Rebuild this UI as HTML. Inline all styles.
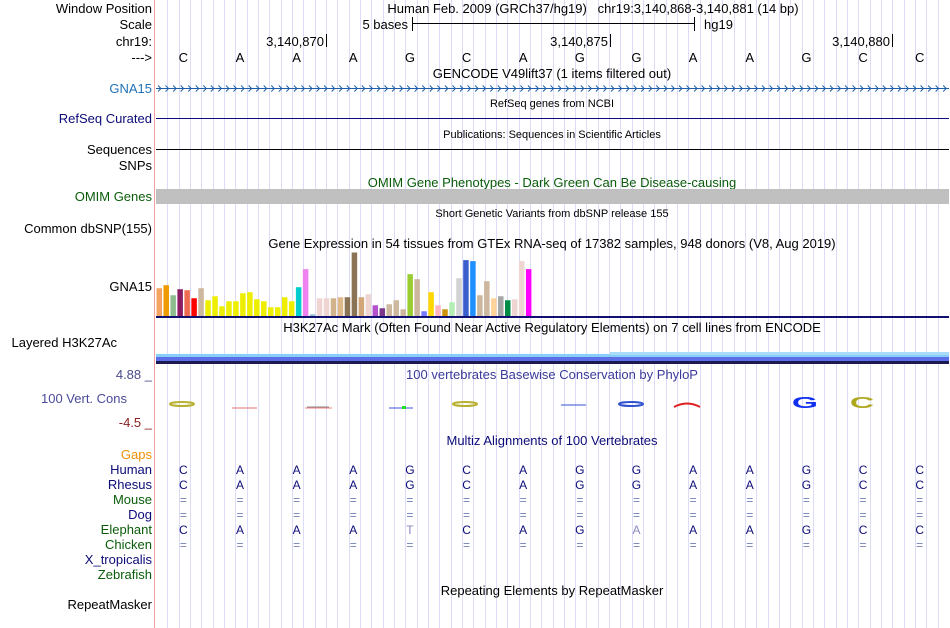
<!DOCTYPE html>
<html><head><meta charset="utf-8"><style>
body{margin:0;background:#fff;width:950px;height:628px;overflow:hidden}
svg{display:block;font-family:"Liberation Sans",sans-serif;font-size:13px}
</style></head><body>
<svg id="c" width="950" height="628">
<g id="grid"></g>
<line x1="154.5" y1="0" x2="154.5" y2="628" stroke="#f4a0a0"/>
<g text-anchor="end">
<text x="152" y="13">Window Position</text>
<text x="152" y="29">Scale</text>
<text x="152" y="46">chr19:</text>
<text x="152" y="62">---&gt;</text>
<text x="152" y="93" fill="#1f72b8">GNA15</text>
<text x="152" y="123" fill="#0c0c78">RefSeq Curated</text>
<text x="152" y="154">Sequences</text>
<text x="152" y="170">SNPs</text>
<text x="152" y="201" fill="#0a5c0a">OMIM Genes</text>
<text x="152" y="233">Common dbSNP(155)</text>
<text x="152" y="291">GNA15</text>
<text x="117" y="347">Layered H3K27Ac</text>
<text x="152" y="379" fill="#4a4a8a">4.88 _</text>
<text x="127" y="403" fill="#4a4a9a">100 Vert. Cons</text>
<text x="152" y="427" fill="#8b2020">-4.5 _</text>
<text x="152" y="459" fill="#f0900a">Gaps</text>
<text x="152" y="474" fill="#0c0c78">Human</text>
<text x="152" y="489" fill="#0c0c78">Rhesus</text>
<text x="152" y="504" fill="#0a5c0a">Mouse</text>
<text x="152" y="519" fill="#0c0c78">Dog</text>
<text x="152" y="534" fill="#0a5c0a">Elephant</text>
<text x="152" y="549" fill="#0a5c0a">Chicken</text>
<text x="152" y="564" fill="#0c0c78">X_tropicalis</text>
<text x="152" y="579" fill="#0a5c0a">Zebrafish</text>
<text x="152" y="609">RepeatMasker</text>
</g>
<g text-anchor="middle">
<text x="593" y="13">Human Feb. 2009 (GRCh37/hg19)&#160;&#160;&#160;chr19:3,140,868-3,140,881 (14 bp)</text>
<text x="552" y="78">GENCODE V49lift37 (1 items filtered out)</text>
<text x="552" y="107" font-size="11">RefSeq genes from NCBI</text>
<text x="552" y="138" font-size="11">Publications: Sequences in Scientific Articles</text>
<text x="552" y="187" fill="#0a5c0a">OMIM Gene Phenotypes - Dark Green Can Be Disease-causing</text>
<text x="552" y="217" font-size="11">Short Genetic Variants from dbSNP release 155</text>
<text x="552" y="248">Gene Expression in 54 tissues from GTEx RNA-seq of 17382 samples, 948 donors (V8, Aug 2019)</text>
<text x="552" y="332">H3K27Ac Mark (Often Found Near Active Regulatory Elements) on 7 cell lines from ENCODE</text>
<text x="552" y="379" fill="#3a3a9a">100 vertebrates Basewise Conservation by PhyloP</text>
<text x="552" y="445" fill="#0c0c78">Multiz Alignments of 100 Vertebrates</text>
<text x="552" y="595">Repeating Elements by RepeatMasker</text>
</g>
<g>
<text x="408" y="29" text-anchor="end">5 bases</text>
<line x1="412" y1="23.5" x2="695" y2="23.5" stroke="#000"/>
<line x1="412.5" y1="17" x2="412.5" y2="31" stroke="#000"/>
<line x1="694.5" y1="17" x2="694.5" y2="31" stroke="#000"/>
<text x="704" y="29">hg19</text>
</g>
<g text-anchor="end">
<text x="324" y="46">3,140,870</text><line x1="326.5" y1="34" x2="326.5" y2="47" stroke="#000"/>
<text x="608" y="46">3,140,875</text><line x1="610.5" y1="34" x2="610.5" y2="47" stroke="#000"/>
<text x="890" y="46">3,140,880</text><line x1="892.5" y1="34" x2="892.5" y2="47" stroke="#000"/>
</g>
<g id="bases" text-anchor="middle"></g>
<g id="gencode"></g>
<line x1="156" y1="118.5" x2="949" y2="118.5" stroke="#0c0c78"/>
<line x1="156" y1="149.5" x2="949" y2="149.5" stroke="#000"/>
<rect x="156" y="189" width="793" height="15" fill="#c0c0c0"/>
<g id="gtex"></g>
<g>
<rect x="156" y="354" width="793" height="3" fill="#87cefa"/>
<rect x="610" y="352" width="339" height="3" fill="#a8dcf8"/>
<rect x="156" y="357" width="793" height="4" fill="#5b6ee8"/>
<rect x="156" y="361" width="793" height="3" fill="#1a1a50"/>
</g>
<g>
<ellipse cx="182" cy="404" rx="12" ry="2" fill="none" stroke="#b8b030" stroke-width="2"/>
<line x1="232" y1="408" x2="257" y2="408" stroke="#e07070"/>
<line x1="307" y1="407" x2="329" y2="407" stroke="#888"/>
<line x1="305" y1="408" x2="332" y2="408" stroke="#f08080"/>
<line x1="389" y1="408" x2="413" y2="408" stroke="#4050e0"/>
<rect x="402" y="406" width="4" height="3" fill="#20e020"/>
<ellipse cx="465" cy="404" rx="12" ry="2" fill="none" stroke="#b8b030" stroke-width="2"/>
<line x1="561" y1="405" x2="586" y2="405" stroke="#3050d0"/>
<ellipse cx="631" cy="404" rx="12" ry="2" fill="none" stroke="#3050d0" stroke-width="2"/>
<path d="M674 407 Q687 400 700 407" fill="none" stroke="#e02020" stroke-width="2"/>
<text x="805" y="408" text-anchor="middle" font-size="24" font-weight="bold" fill="#1030f0" transform="translate(805 408) scale(1.4 0.65) translate(-805 -408)">G</text>
<text x="862" y="408" text-anchor="middle" font-size="24" font-weight="bold" fill="#b0a820" transform="translate(862 408) scale(1.4 0.65) translate(-862 -408)">C</text>
</g>
<g id="multiz" text-anchor="middle" font-size="12"></g>
</svg>
<script>
const NS='http://www.w3.org/2000/svg';
const X0=156,X1=949,NB=14,BW=(X1-X0)/NB;
// GTEx data
const gtexValues=[27.7,30.7,20.7,26.7,25.7,17.7,27.7,15.7,19.7,9.7,14.7,14.7,22.7,23.7,16.7,14.7,8.7,8.7,18.7,14.7,28.7,46.7,1.7,17.7,17.7,17.7,18.7,18.7,63.3,18.7,21.7,10.7,7.7,11.7,15.7,6.7,41.7,36.7,4.7,23.7,10.7,6.7,13.7,37.7,55.7,54.7,20.7,34.7,17.7,19.7,15.7,16.7,54.7,46.7];
const gtexColors=['#f4a460','#ee9a00','#8fbc8f','#8b1c62','#ee6a50','#ff0000','#cdb79e','#eeee00','#eeee00','#eeee00','#eeee00','#eeee00','#eeee00','#eeee00','#eeee00','#eeee00','#eeee00','#eeee00','#eeee00','#eeee00','#00cdcd','#ee82ee','#9ac0cd','#eed5d2','#eed5d2','#d2b48c','#deb887','#8b7355','#8b7355','#d2a679','#eed5d2','#b452cd','#7a378b','#cdb79e','#cdb79e','#cdb79e','#9acd32','#cdb79e','#7777ff','#ffd700','#ffb6c1','#cd950c','#b4eeb4','#d3d3d3','#3a5fcd','#1e90ff','#cdb79e','#cdb79e','#ffd39b','#a6a6a6','#008b45','#eed5d2','#eed5d2','#ff00ff'];
const gtexMax=63.3;
const seq=['C','A','A','A','G','C','A','G','G','A','A','G','C','C'];
const elephant=['C','A','A','A','T','C','A','G','A','A','A','G','C','C'];
function mk(t,a,p){const e=document.createElementNS(NS,t);for(const k in a)e.setAttribute(k,a[k]);p.appendChild(e);return e;}
const bx=i=>X0-1+BW*(i+0.5);
const grid=document.getElementById('grid');
for(let k=1;k<NB*5;k++){const x=Math.round(X0+k*BW/5)+0.5;const l=mk('line',{x1:x,y1:0,x2:x,y2:628,stroke:'#dcdcf8'},grid);

}
const bases=document.getElementById('bases');
seq.forEach((b,i)=>{const t=mk('text',{x:bx(i),y:62},bases);t.textContent=b;

});
const gc=document.getElementById('gencode');
mk('line',{x1:X0,y1:88.5,x2:X1,y2:88.5,stroke:'#1f5fa8'},gc);
for(let x=X0+4;x<X1-3;x+=7.55){mk('path',{d:'M'+(x-2)+' 85.5L'+(x+1)+' 88.5L'+(x-2)+' 91.5',fill:'none',stroke:'#1f5fa8'},gc);}
const G0=156.5,GSTEP=6.97,BASE=316,GH=63.5;
const yG=v=>BASE-v/gtexMax*GH;
const gt=document.getElementById('gtex');
gtexValues.forEach((v,i)=>{const r=mk('rect',{x:G0+i*GSTEP,y:yG(v),width:5.5,height:BASE-yG(v),fill:gtexColors[i]},gt);

});
mk('rect',{x:156,y:316,width:793,height:2,fill:'#101070'},gt);
const mz=document.getElementById('multiz');
const eq=Array(14).fill('=');
const rows=[[474,seq,'#0c0c78'],[489,seq,'#0c0c78'],[504,eq,'#7080b0'],[519,eq,'#7080b0'],[534,elephant,'#0c0c78'],[549,eq,'#7080b0']];
rows.forEach(([y,s,c])=>{s.forEach((ch,i)=>{let col=c;if(y===534&&ch!==seq[i])col='#8888c0';
const t=mk('text',{x:bx(i),y:y,fill:col},mz);t.textContent=ch;

});});
</script>
</body></html>
